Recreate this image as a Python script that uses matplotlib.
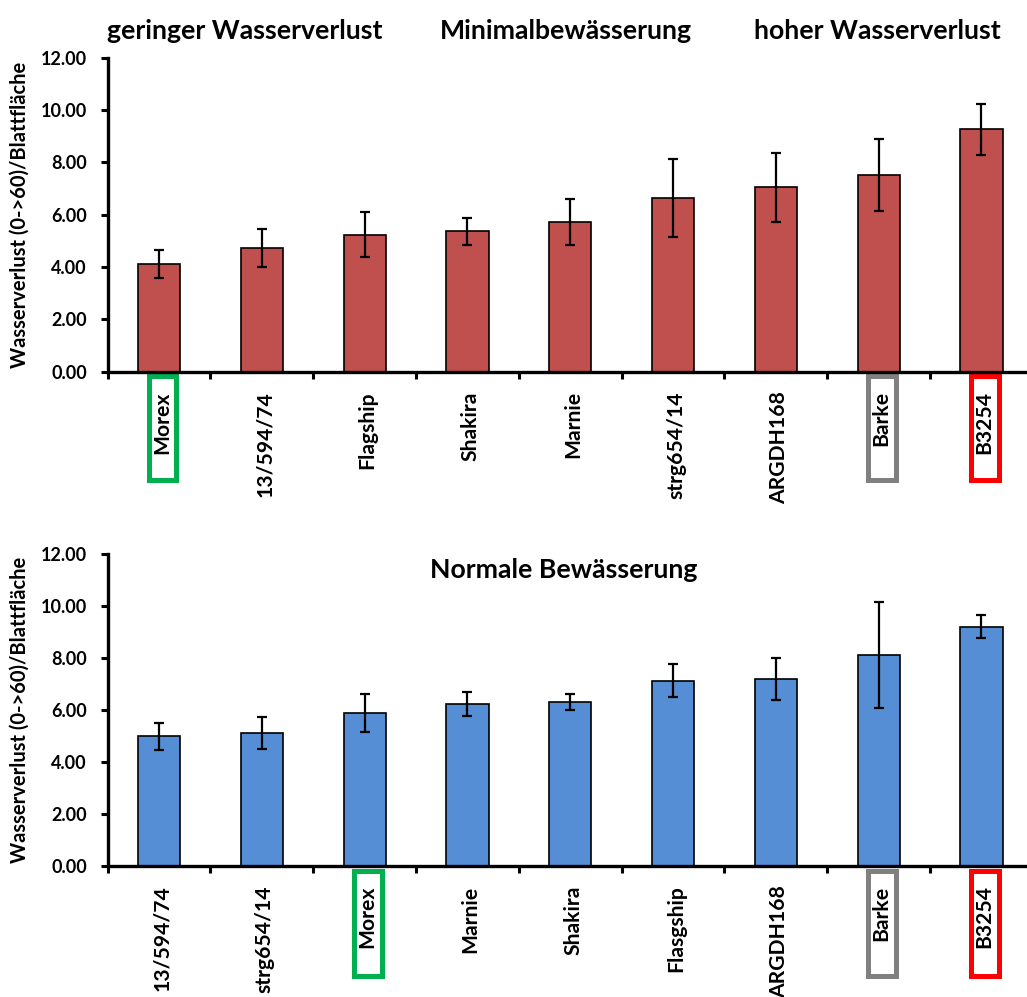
import matplotlib.pyplot as plt
import matplotlib.transforms as mtransforms
from matplotlib.patches import Rectangle
from matplotlib.ticker import FixedLocator

plt.rcParams['font.family'] = ['Lato', 'DejaVu Sans']
plt.rcParams['font.weight'] = 'bold'

# ------------------------------------------------------------
# data
# ------------------------------------------------------------
min_names = ["Morex", "13/594/74", "Flagship", "Shakira", "Marnie",
             "strg654/14", "ARGDH168", "Barke", "B3254"]
min_vals = [4.11, 4.74, 5.24, 5.36, 5.72, 6.63, 7.04, 7.52, 9.26]
min_err = [0.53, 0.73, 0.87, 0.51, 0.87, 1.50, 1.32, 1.39, 0.98]

norm_names = ["13/594/74", "strg654/14", "Morex", "Marnie", "Shakira",
              "Flasgship", "ARGDH168", "Barke", "B3254"]
norm_vals = [4.99, 5.13, 5.89, 6.23, 6.31, 7.14, 7.20, 8.11, 9.22]
norm_err = [0.52, 0.62, 0.73, 0.46, 0.31, 0.63, 0.80, 2.04, 0.45]

yticks = [0, 2, 4, 6, 8, 10, 12]
ylab = "Wasserverlust (0->60)/Blattfläche"

# highlighted genotypes and their frame colours
highlight = {"Morex": "#00B050", "Barke": "#808080", "B3254": "#FF0000"}

fig = plt.figure(figsize=(10.27, 9.97), dpi=100)
ax_top = fig.add_axes([0.1048, 0.6272, 0.9009, 0.3149])
ax_bot = fig.add_axes([0.1048, 0.1314, 0.9009, 0.3126])


def draw_panel(ax, names, vals, err, color, box_y0, box_h):
    x = list(range(len(names)))
    ax.bar(x, vals, width=0.41, color=color, edgecolor='black',
           linewidth=1.2, zorder=2)
    ax.errorbar(x, vals, yerr=err, fmt='none', ecolor='black',
                elinewidth=1.6, capsize=3.4, capthick=1.6, zorder=3)

    ax.set_xlim(-0.5, len(names) - 0.5)
    ax.set_ylim(0, 12)
    ax.set_yticks(yticks)
    ax.set_yticklabels([f"{v:.2f}" for v in yticks])

    ax.set_xticks(x)
    ax.set_xticklabels(names, rotation=90, ha='center', va='top')
    ax.xaxis.set_minor_locator(FixedLocator([i - 0.5 for i in range(len(names) + 1)]))
    ax.tick_params(axis='x', which='major', length=0, pad=14,
                   labelsize=15.2)
    ax.tick_params(axis='x', which='minor', length=5, width=2.2,
                   direction='out')
    ax.tick_params(axis='y', length=5, width=2.2, direction='out',
                   pad=10, labelsize=13)

    # nudge the rotated names a little to the right (after tick_params,
    # which resets the label transforms)
    shift = mtransforms.ScaledTranslation(0.03, 0, fig.dpi_scale_trans)
    for lbl in ax.get_xticklabels():
        lbl.set_transform(lbl.get_transform() + shift)

    for side in ('top', 'right'):
        ax.spines[side].set_visible(False)
    for side in ('left', 'bottom'):
        ax.spines[side].set_linewidth(2.4)

    ax.set_ylabel(ylab, fontsize=14.5, fontweight='bold', va='center')
    ax.yaxis.set_label_coords(-0.0947, 0.5)

    # coloured frames round selected tick labels
    trans = mtransforms.blended_transform_factory(ax.transData, ax.transAxes)
    for name, col in highlight.items():
        i = names.index(name)
        ax.add_patch(Rectangle((i + 0.035 - 0.134, box_y0), 0.268, box_h,
                               transform=trans, fill=False, edgecolor=col,
                               linewidth=3.6, clip_on=False))


draw_panel(ax_top, min_names, min_vals, min_err, '#C0504D', -0.3455, 0.3302)
draw_panel(ax_bot, norm_names, norm_vals, norm_err, '#558ED5', -0.352, 0.3366)

# panel headings
fig.text(0.2386, 0.9610, "geringer Wasserverlust", ha='center', va='baseline',
         fontsize=19.2, fontweight='bold')
fig.text(0.5510, 0.9610, "Minimalbewässerung", ha='center', va='baseline',
         fontsize=19.2, fontweight='bold')
fig.text(0.8540, 0.9610, "hoher Wasserverlust", ha='center', va='baseline',
         fontsize=19.2, fontweight='bold')
fig.text(0.5485, 0.4203, "Normale Bewässerung", ha='center', va='baseline',
         fontsize=19.2, fontweight='bold')

fig.savefig("out.png", dpi=100)
